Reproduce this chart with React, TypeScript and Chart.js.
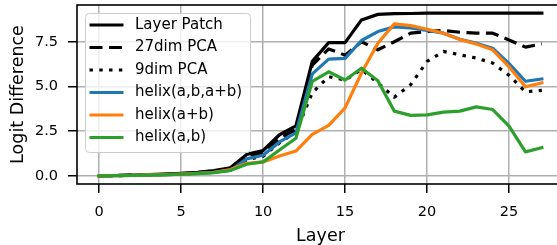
import { useEffect, useRef } from "react";
import { Chart, registerables } from "chart.js";

Chart.register(...registerables);

const layers = [0, 1, 2, 3, 4, 5, 6, 7, 8, 9, 10, 11, 12, 13, 14, 15, 16, 17, 18, 19, 20, 21, 22, 23, 24, 25, 26, 27];

const layerPatch = [0, 0.02, 0.04, 0.07, 0.1, 0.14, 0.2, 0.3, 0.45, 1.2, 1.42, 2.3, 2.8, 6.4, 7.45, 7.45, 8.72, 9.03, 9.07, 9.08, 9.1, 9.1, 9.1, 9.1, 9.1, 9.1, 9.1, 9.1];
const pca27 = [0, 0.02, 0.04, 0.06, 0.09, 0.13, 0.18, 0.27, 0.4, 1.1, 1.3, 2.1, 2.6, 6.2, 7.1, 6.75, 7.5, 7.05, 7.5, 7.98, 8.07, 8.13, 8.03, 7.98, 7.98, 7.6, 7.2, 7.38];
const pca9 = [0, 0.01, 0.03, 0.05, 0.07, 0.1, 0.15, 0.22, 0.32, 0.9, 1.1, 1.85, 2.45, 4.65, 5.55, 5.35, 5.95, 5.2, 4.4, 5.1, 6.4, 6.96, 6.77, 6.59, 6.31, 5.62, 4.7, 4.78];
const helixABAB = [0, 0.01, 0.03, 0.05, 0.07, 0.1, 0.14, 0.2, 0.3, 0.95, 1.15, 1.9, 2.4, 5.7, 6.53, 6.57, 7.57, 8.07, 8.33, 8.27, 8.13, 7.98, 7.64, 7.42, 7.14, 6.28, 5.29, 5.42];
const helixAplusB = [0, 0.01, 0.03, 0.05, 0.07, 0.1, 0.14, 0.2, 0.35, 0.7, 0.78, 1.11, 1.39, 2.32, 2.82, 3.8, 5.75, 7.42, 8.5, 8.4, 8.2, 7.98, 7.62, 7.38, 7.05, 6.1, 4.98, 5.2];
const helixAB = [0, 0.01, 0.02, 0.04, 0.06, 0.09, 0.13, 0.18, 0.3, 0.65, 0.78, 1.45, 2.1, 5.29, 5.82, 5.36, 6.02, 5.32, 3.62, 3.38, 3.41, 3.56, 3.62, 3.86, 3.71, 2.78, 1.34, 1.58];

const seriesNames = ["Layer Patch", "27dim PCA", "9dim PCA", "helix(a,b,a+b)", "helix(a+b)", "helix(a,b)"];
const seriesValues = [layerPatch, pca27, pca9, helixABAB, helixAplusB, helixAB];
const seriesColors = ["#000000", "#000000", "#000000", "#1f77b4", "#ff7f0e", "#2ca02c"];
const seriesDashes: number[][] = [[], [13, 6.5], [3.4, 6.4], [], [], []];

const xTicksStep = 5;
const yTicksStep = 2.5;

const FONT = "'DejaVu Sans', sans-serif";

const framePlugin = {
  id: "frameAndLegend",
  afterDraw(chart: any) {
    const { ctx, chartArea } = chart;
    ctx.save();
    ctx.strokeStyle = "#000";
    ctx.lineWidth = 1.6;
    ctx.setLineDash([]);
    ctx.strokeRect(chartArea.left, chartArea.top, chartArea.right - chartArea.left, chartArea.bottom - chartArea.top);

    // legend
    const bx = 85, by = 13, bw = 165, bh = 139;
    ctx.beginPath();
    (ctx as any).roundRect(bx + 0.5, by + 0.5, bw, bh, 4);
    ctx.fillStyle = "rgba(255,255,255,0.8)";
    ctx.fill();
    ctx.strokeStyle = "#cccccc";
    ctx.lineWidth = 1;
    ctx.stroke();

    chart.data.datasets.forEach((ds: any, i: number) => {
      const y = 25 + i * 22.5;
      ctx.beginPath();
      ctx.setLineDash(ds.borderDash || []);
      ctx.lineCap = "butt";
      ctx.strokeStyle = ds.borderColor;
      ctx.lineWidth = ds.borderWidth;
      ctx.moveTo(89.5, y);
      ctx.lineTo(123.5, y);
      ctx.stroke();
      ctx.setLineDash([]);
      ctx.fillStyle = "#000";
      ctx.font = `15px ${FONT}`;
      ctx.textBaseline = "middle";
      ctx.textAlign = "left";
      ctx.fillText(ds.label, 135, y);
    });
    ctx.restore();
  },
};

export default function App() {
  const ref = useRef<HTMLCanvasElement>(null);
  useEffect(() => {
    if (!ref.current) return;
    const datasets = seriesNames.map((name, i) => ({
      label: name,
      data: layers.map((l, j) => ({ x: l, y: seriesValues[i][j] })),
      borderColor: seriesColors[i],
      backgroundColor: seriesColors[i],
      borderWidth: 3.2,
      borderDash: seriesDashes[i],
      borderCapStyle: seriesDashes[i].length ? "butt" : "square",
      borderJoinStyle: "round",
      pointRadius: 0,
      tension: 0,
      fill: false,
      order: seriesNames.length - i,
    }));
    const chart = new Chart(ref.current, {
      type: "line",
      data: { datasets } as any,
      options: {
        animation: false,
        responsive: false,
        devicePixelRatio: 1,
        layout: { padding: { top: 5, right: 0, left: 0, bottom: 0 } },
        plugins: { legend: { display: false }, tooltip: { enabled: false } },
        scales: {
          x: {
            type: "linear",
            min: -1.35,
            max: 28.35,
            afterFit: (s: any) => { s.height = 61; s.paddingLeft = 0; s.paddingRight = 0; },
            ticks: {
              stepSize: xTicksStep,
              includeBounds: false,
              autoSkip: false,
              maxRotation: 0,
              padding: 11,
              color: "#000",
              font: { family: FONT, size: 14.5 },
              callback: (v: any) => String(v),
            },
            grid: { color: "#b0b0b0", lineWidth: 1.5, tickColor: "#000", tickWidth: 1.5, tickLength: 9 },
            border: { display: false },
            title: { display: true, text: "Layer", color: "#000", font: { family: FONT, size: 17.5, lineHeight: 1 }, padding: { top: 0, bottom: 0 } },
          },
          y: {
            type: "linear",
            min: -0.455,
            max: 9.555,
            afterFit: (s: any) => { s.width = 77; s.paddingTop = 0; s.paddingBottom = 0; },
            ticks: {
              stepSize: yTicksStep,
              includeBounds: false,
              padding: 10,
              color: "#000",
              font: { family: FONT, size: 14.5 },
              callback: (v: any) => Number(v).toFixed(1),
            },
            grid: { color: "#b0b0b0", lineWidth: 1.5, tickColor: "#000", tickWidth: 1.5, tickLength: 9 },
            border: { display: false },
            title: { display: true, text: "Logit Difference", color: "#000", font: { family: FONT, size: 17.5, lineHeight: 1 }, padding: { top: 10, bottom: 0 } },
          },
        },
      } as any,
      plugins: [framePlugin],
    });
    return () => chart.destroy();
  }, []);
  return (
    <div style={{ position: "fixed", left: 0, top: 0, width: 557, height: 245, overflow: "hidden", background: "#fff" }}>
      <canvas ref={ref} width={564} height={245} style={{ display: "block" }} />
    </div>
  );
}
